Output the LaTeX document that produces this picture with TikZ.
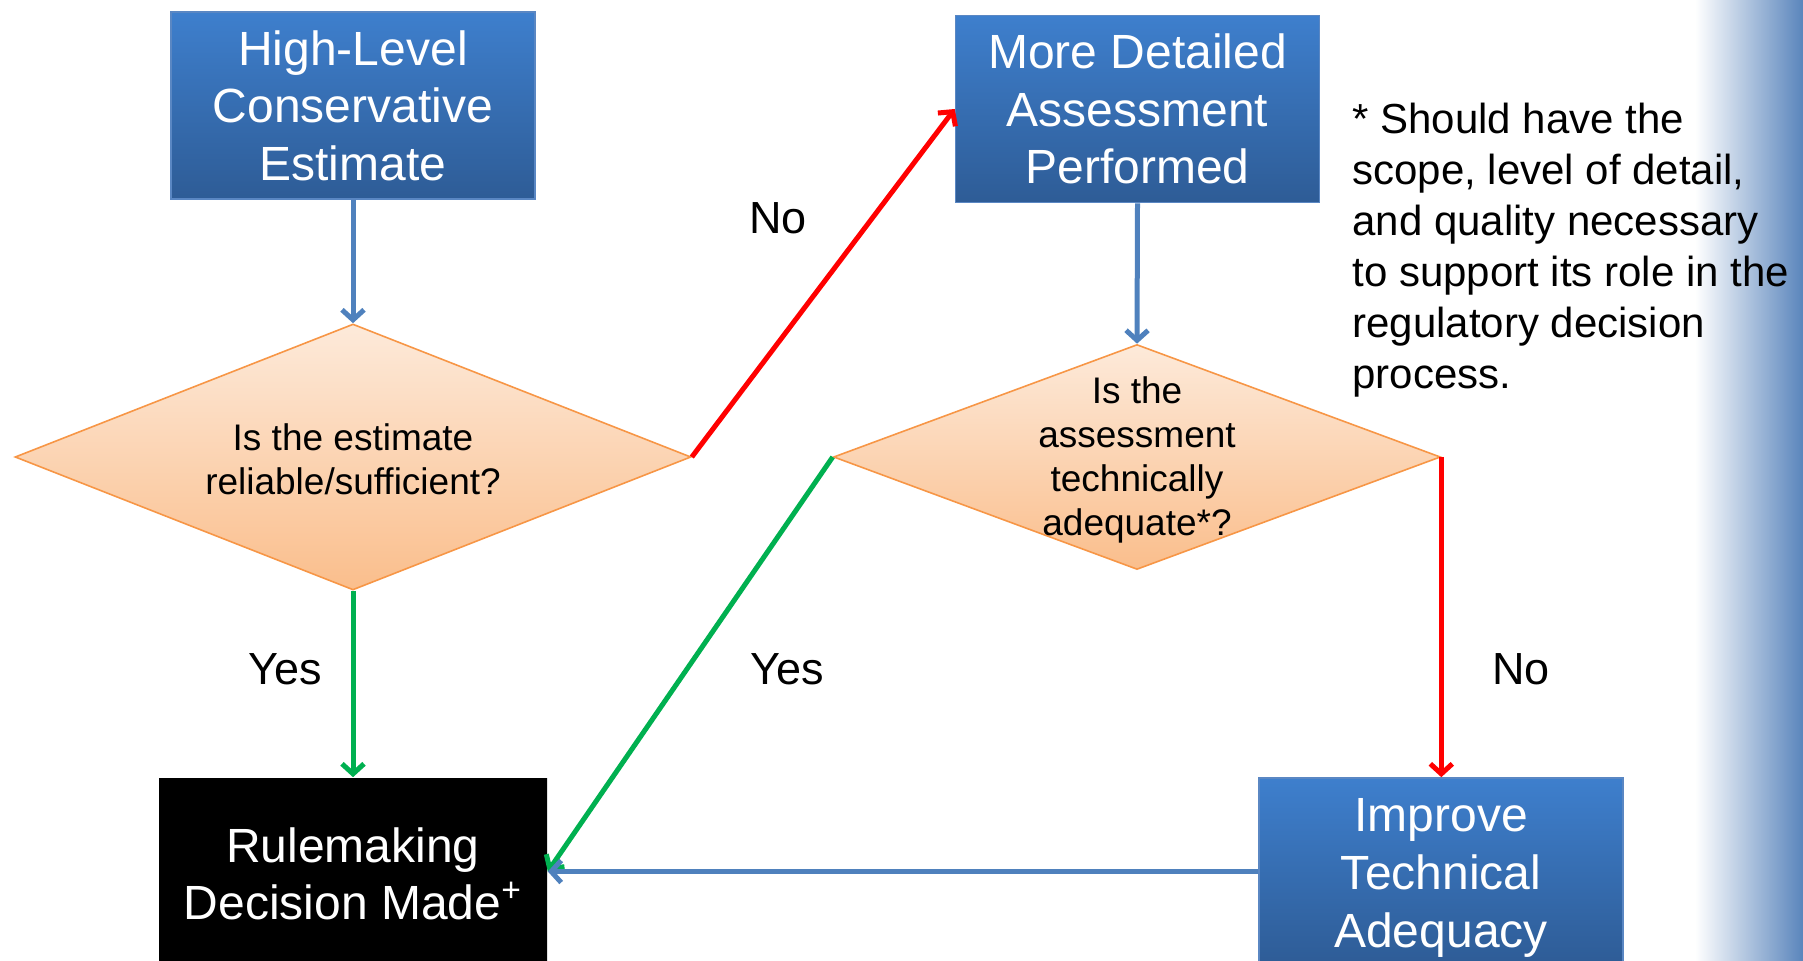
\documentclass[tikz,border=0pt]{standalone}
\usepackage{fontspec}
\setmainfont{Liberation Sans}
\usetikzlibrary{arrows.meta,shapes.geometric}
\definecolor{boxtop}{RGB}{62,127,205}
\definecolor{boxbot}{RGB}{46,92,150}
\definecolor{boxline}{RGB}{90,135,195}
\definecolor{dmdtop}{RGB}{253,234,218}
\definecolor{dmdbot}{RGB}{250,190,140}
\definecolor{dmdline}{RGB}{247,150,70}
\definecolor{flowblue}{RGB}{79,129,189}
\definecolor{flowgreen}{RGB}{0,176,80}
\definecolor{edgeblue}{RGB}{90,133,188}

\begin{document}
\begin{tikzpicture}[x=0.5pt,y=-0.5pt,>={Straight Barb[length=5pt,width=11pt]}]
	\tikzstyle{box} = [rectangle,draw=boxline,line width=0.8pt,top color=boxtop,bottom color=boxbot,text=white,minimum width=182pt,minimum height=93.5pt,align=center,font=\fontsize{24}{28.8}\selectfont];
	\tikzstyle{endbox} = [box,draw=none,top color=black,bottom color=black,minimum width=194pt];
	\tikzstyle{dmd} = [diamond,draw=dmdline,line width=0.8pt,top color=dmdtop,bottom color=dmdbot,inner sep=0pt];
	\tikzstyle{qtext} = [align=center,inner sep=0pt,font=\fontsize{18.5}{22}\selectfont];
	\tikzstyle{lbl} = [inner sep=0pt,font=\fontsize{22.5}{27}\selectfont];
	\tikzstyle{note} = [align=left,inner sep=0pt,font=\fontsize{21}{25.5}\selectfont];
	\tikzstyle{link} = [->,line width=2.5pt];
	\useasboundingbox (0,0) rectangle (1803,961);
	\shade[left color=white,right color=edgeblue] (1695,0) rectangle (1803,961);
	\node[box] (est) at (353,105.5) {High-Level\\Conservative\\Estimate};
	\node[box] (det) at (1137.5,109) {More Detailed\\Assessment\\Performed};
	\node[dmd,minimum width=338pt,minimum height=133pt] (q1) at (353,457) {};
	\node[qtext] (q1t) at (353,459) {Is the estimate\\reliable/sufficient?};
	\node[dmd,minimum width=303.5pt,minimum height=112.5pt] (q2) at (1137,457) {};
	\node[qtext] (q2t) at (1137,460) {Is the\\assessment\\technically\\adequate*?};
	\node[endbox] (rule) at (353,871.5) {};
	\node[align=center,text=white,font=\fontsize{24}{28.8}\selectfont] (rulet) at (353,874) {Rulemaking\\Decision Made\textsuperscript{+}};
	\node[box] (imp) at (1441,871.5) {};
	\node[align=center,text=white,font=\fontsize{24}{28.8}\selectfont] (impt) at (1441,878) {Improve\\Technical\\Adequacy};
	\node[note,anchor=north west] (note) at (1352,103) {* Should have the\\scope, level of detail,\\and quality necessary\\to support its role in the\\regulatory decision\\process.};
	\node[lbl] (no1) at (778,218) {No};
	\node[lbl] (yes1) at (285,669) {Yes};
	\node[lbl] (yes2) at (787,669) {Yes};
	\node[lbl] (no2) at (1521,669) {No};
	\draw[link,flowblue] (est.south) -- (q1.north);
	\draw[link,red] (q1.east) -- (det.west);
	\draw[link,flowgreen] (q1.south) -- (rule.north);
	\draw[link,flowblue] (det.south) -- (q2.north);
	\draw[link,flowgreen] (q2.west) -- (rule.east);
	\draw[link,red] (q2.east) -- (q2.east |- imp.north);
	\draw[link,flowblue] (imp.west) -- (rule.east);
\end{tikzpicture}
\end{document}
